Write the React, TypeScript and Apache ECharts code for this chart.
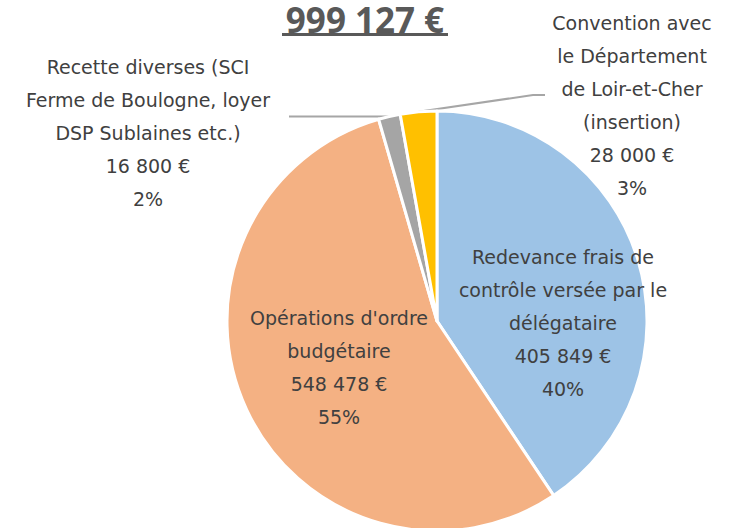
import React, { useEffect, useRef } from "react";
import * as echarts from "echarts";

const categories = [
  "Redevance frais de contrôle versée par le délégataire",
  "Opérations d'ordre budgétaire",
  "Recette diverses (SCI Ferme de Boulogne, loyer DSP Sublaines etc.)",
  "Convention avec le Département de Loir-et-Cher (insertion)",
];
const wrappedNames = [
  "Redevance frais de\ncontrôle versée par le\ndélégataire",
  "Opérations d'ordre\nbudgétaire",
  "Recette diverses (SCI\nFerme de Boulogne, loyer\nDSP Sublaines etc.)",
  "Convention avec\nle Département\nde Loir-et-Cher\n(insertion)",
];
const values = [405849, 548478, 16800, 28000];
const colors = ["#9DC3E6", "#F4B183", "#A5A5A5", "#FFC000"];
const titleText = "999 127 €";

// label anchor positions (centre of each label block) in px
const labelAnchors: [number, number][] = [
  [563, 323],
  [339, 367],
  [148, 133],
  [632, 105],
];

const fmt = (v: number) =>
  String(v).replace(/\B(?=(\d{3})+(?!\d))/g, " ") + " €";

export default function App() {
  const ref = useRef<HTMLDivElement>(null);
  useEffect(() => {
    if (!ref.current) return;
    const chart = echarts.init(ref.current, null, { renderer: "svg" });
    const font = "'DejaVu Sans', sans-serif";
    const option: any = {
      animation: false,
      graphic: [
        {
          type: "text",
          x: 365,
          y: 0,
          style: {
            text: titleText,
            font: `bold 35px 'Open Sans', sans-serif`,
            lineHeight: 38,
            align: "center",
            verticalAlign: "top",
            fill: "#595959",
          },
        },
        {
          type: "rect",
          shape: { x: 282, y: 33, width: 166, height: 3 },
          style: { fill: "#595959" },
        },
      ],
      series: [
        {
          type: "pie",
          center: [437, 321],
          radius: 210,
          startAngle: 90,
          clockwise: true,
          percentPrecision: 0,
          itemStyle: { borderColor: "#ffffff", borderWidth: 3 },
          label: {
            show: true,
            position: "outside",
            color: "#404040",
            fontFamily: font,
            fontSize: 19,
            lineHeight: 33,
            align: "center",
            overflow: "none",
            formatter: (p: any) =>
              `${wrappedNames[p.dataIndex]}\n${fmt(p.value)}\n${p.percent}%`,
          },
          labelLine: {
            show: true,
            lineStyle: { color: "#A6A6A6", width: 2 },
          },
          labelLayout: (params: any) => {
            const i = params.dataIndex;
            const [x, y] = labelAnchors[i];
            const res: any = { x, y, align: "center", verticalAlign: "middle" };
            const pts = params.labelLinePoints;
            if (pts && pts.length) {
              const s = pts[0];
              if (i === 2) {
                res.labelLinePoints = [s, [s[0] - 50, s[1]], [289, s[1]]];
              } else if (i === 3) {
                res.labelLinePoints = [s, [533, 95], [545, 95]];
              }
            }
            return res;
          },
          data: values.map((v, i) => ({
            name: categories[i],
            value: v,
            itemStyle: { color: colors[i] },
            ...(i < 2
              ? { label: { position: "inside" }, labelLine: { show: false } }
              : {}),
          })),
        },
      ],
    };
    chart.setOption(option);
    return () => chart.dispose();
  }, []);
  return (
    <div
      ref={ref}
      style={{ position: "fixed", left: 0, top: 0, width: 744, height: 528, background: "#fff" }}
    />
  );
}
